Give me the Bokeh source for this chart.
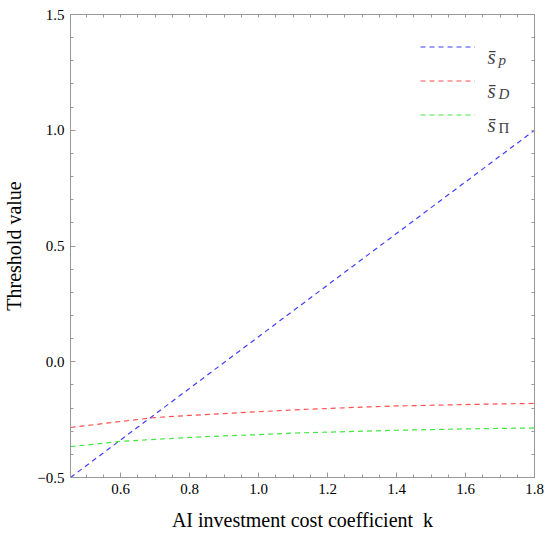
import numpy as np
from bokeh.plotting import figure
from bokeh.models import (FixedTicker, LinearAxis, Legend, LegendItem, Label, Range1d)
from bokeh.embed import file_html
from bokeh.resources import INLINE

# ---- data ----
k_p = [0.455, 1.0, 1.8]
s_p = [-0.5, 0.108, 1.0]

k_vals = [0.455, 0.5, 0.6, 0.7, 0.8, 0.9, 1.0, 1.1, 1.2, 1.3, 1.4, 1.5, 1.6, 1.7, 1.8]
s_D = [-0.284, -0.276, -0.258, -0.241, -0.232, -0.224, -0.216, -0.208, -0.202,
       -0.196, -0.191, -0.188, -0.185, -0.182, -0.180]
s_Pi = [-0.366, -0.360, -0.344, -0.335, -0.327, -0.320, -0.315, -0.308, -0.304,
        -0.300, -0.296, -0.293, -0.290, -0.288, -0.286]

x_ticks = [0.6, 0.8, 1.0, 1.2, 1.4, 1.6, 1.8]
x_tick_labels = ["0.6", "0.8", "1.0", "1.2", "1.4", "1.6", "1.8"]
y_ticks = [-0.5, 0.0, 0.5, 1.0, 1.5]
y_tick_labels = ["\u22120.5", "0.0", "0.5", "1.0", "1.5"]

x_label = "AI investment cost coefficient \u00a0k"
y_label = "Threshold value"

SERIF = "Liberation Serif"
FRAME = "#999999"

p = figure(width=550, height=535, output_backend="svg", toolbar_location=None,
           x_range=Range1d(0.455, 1.8), y_range=Range1d(-0.5, 1.5),
           x_axis_location=None, y_axis_location=None,
           min_border_left=70, min_border_right=16, min_border_top=14, min_border_bottom=58)
p.grid.visible = False
p.outline_line_color = FRAME
p.outline_line_width = 1
p.background_fill_color = "white"
p.border_fill_color = "white"

x_minor = list(np.round(np.arange(0.45, 1.8001, 0.05), 3))
y_minor = list(np.round(np.arange(-0.5, 1.5001, 0.1), 3))
xt = FixedTicker(ticks=x_ticks, minor_ticks=x_minor)
yt = FixedTicker(ticks=y_ticks, minor_ticks=y_minor)


def style(ax):
    ax.axis_line_color = FRAME
    ax.major_tick_line_color = FRAME
    ax.minor_tick_line_color = FRAME
    ax.major_tick_in = 5
    ax.major_tick_out = 0
    ax.minor_tick_in = 3
    ax.minor_tick_out = 0
    ax.major_label_text_font = SERIF
    ax.major_label_text_font_size = "15px"
    ax.major_label_text_color = "black"
    ax.major_label_standoff = 6
    ax.axis_label_text_font = SERIF
    ax.axis_label_text_font_size = "20px"
    ax.axis_label_text_font_style = "normal"
    ax.axis_label_text_color = "black"


bx = LinearAxis(ticker=xt, axis_label=x_label,
                major_label_overrides=dict(zip(x_ticks, x_tick_labels)))
style(bx)
bx.axis_label_standoff = 12
ly = LinearAxis(ticker=yt, axis_label=y_label,
                major_label_overrides=dict(zip(y_ticks, y_tick_labels)))
style(ly)
ly.axis_label_standoff = 9
# frame ticks on top and right (no labels)
tx = LinearAxis(ticker=FixedTicker(ticks=[], minor_ticks=x_minor))
style(tx)
ry = LinearAxis(ticker=FixedTicker(ticks=[], minor_ticks=y_minor))
style(ry)
p.add_layout(bx, "below")
p.add_layout(ly, "left")
p.add_layout(tx, "above")
p.add_layout(ry, "right")

BLUE = "#3f3fff"
RED = "#ff5050"
GREEN = "#40e840"
DASH = "5 4"
r_p = p.line(k_p, s_p, line_color=BLUE, line_width=1.2, line_dash=DASH)
r_d = p.line(k_vals, s_D, line_color=RED, line_width=1.2, line_dash=DASH)
r_pi = p.line(k_vals, s_Pi, line_color=GREEN, line_width=1.2, line_dash=DASH)

legend = Legend(items=[LegendItem(label=" ", renderers=[r_p]),
                       LegendItem(label=" ", renderers=[r_d]),
                       LegendItem(label=" ", renderers=[r_pi])],
                location=(350, 352), glyph_width=55, glyph_height=21,
                label_height=21, spacing=13, padding=0, margin=0,
                label_standoff=0, border_line_alpha=0, background_fill_alpha=0)
p.add_layout(legend, "center")

# legend texts (screen units relative to the frame)
leg_main = ["s\u0304", "s\u0304", "s\u0304"]
leg_sub = ["p", "D", "\u03a0"]
leg_sub_style = ["italic", "italic", "normal"]
for i in range(3):
    yb = 421 - 34 * i
    p.add_layout(Label(x=417, y=yb, x_units="screen", y_units="screen",
                       text=leg_main[i], text_font=SERIF, text_font_style="italic",
                       text_font_size="21px", text_baseline="alphabetic"))
    p.add_layout(Label(x=428, y=yb - 3, x_units="screen", y_units="screen",
                       text=leg_sub[i], text_font=SERIF, text_font_style=leg_sub_style[i],
                       text_font_size="15px", text_baseline="alphabetic"))

open("out.html", "w").write(file_html(p, INLINE))
